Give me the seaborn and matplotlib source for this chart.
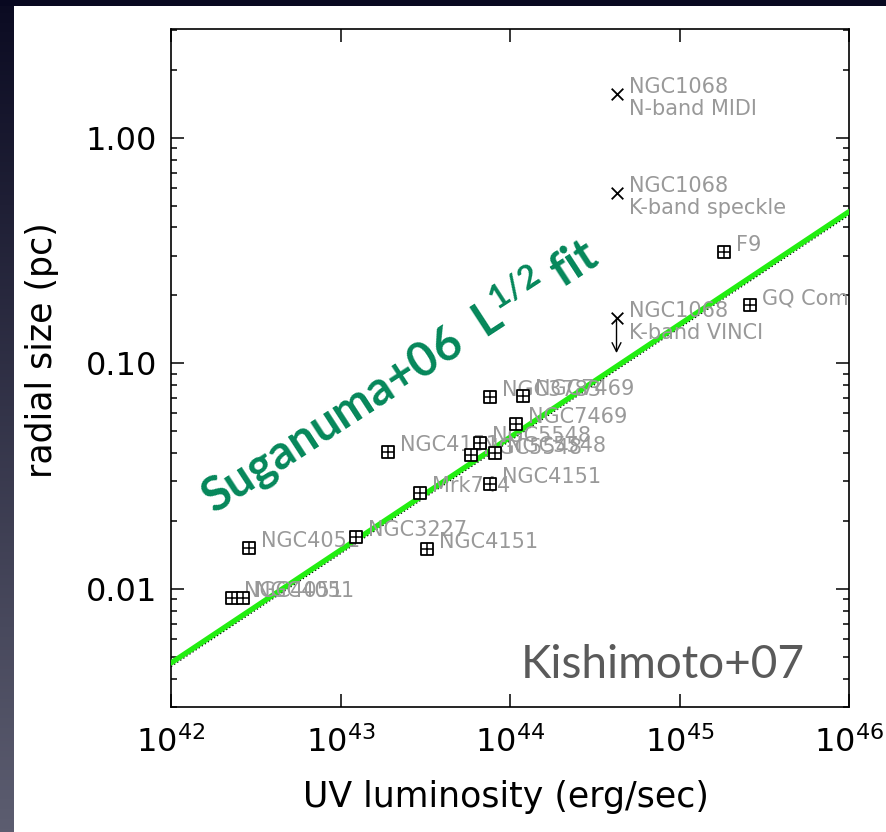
import numpy as np
import pandas as pd
import matplotlib
matplotlib.use('Agg')
import matplotlib.pyplot as plt
from matplotlib.colors import LinearSegmentedColormap
from matplotlib.patches import Rectangle
from matplotlib.ticker import NullLocator
import seaborn as sns

# Suganuma+06 reverberation sources (UV luminosity, radius)
names = ['NGC4051', 'NGC4051', 'NGC4051', 'NGC3227', 'NGC4151', 'NGC4151',
         'NGC4151', 'Mrk744', 'NGC5548', 'NGC5548', 'NGC5548', 'NGC3783',
         'NGC7469', 'NGC7469', 'F9', 'GQ Com']
lum = [2.90e42, 2.29e42, 2.66e42, 1.24e43, 1.90e43, 7.67e43,
       3.26e43, 2.95e43, 6.62e43, 5.86e43, 8.11e43, 7.67e43,
       1.19e44, 1.08e44, 1.83e45, 2.62e45]
rad = [0.0152, 0.00909, 0.00909, 0.0170, 0.0404, 0.0292,
       0.0151, 0.0267, 0.0442, 0.0392, 0.0400, 0.0710,
       0.0720, 0.0541, 0.310, 0.181]

# NGC1068 interferometry
n1068_lum = [4.25e44, 4.25e44, 4.25e44]
n1068_rad = [1.56, 0.571, 0.159]
n1068_sub = ['N-band MIDI', 'K-band speckle', 'K-band VINCI']
vinci_limit = 0.111

# L^1/2 fit end points
fit_lum = [1e42, 1e46]
fit_rad = [0.0047, 0.47]

xticks = [1e42, 1e43, 1e44, 1e45, 1e46]
xticklabels = ['$10^{42}$', '$10^{43}$', '$10^{44}$', '$10^{45}$', '$10^{46}$']
yticks = [0.01, 0.1, 1.0]
yticklabels = ['0.01', '0.10', '1.00']

sns.set_style('ticks')
plt.rcParams['font.family'] = ['DejaVu Sans']

df = pd.DataFrame({'name': names, 'lum': lum, 'rad': rad})
df68 = pd.DataFrame({'lum': n1068_lum, 'rad': n1068_rad, 'sub': n1068_sub})
dfit = pd.DataFrame({'lum': fit_lum, 'rad': fit_rad})

fig = plt.figure(figsize=(8.87, 8.32), dpi=100)
fig.patch.set_facecolor('white')

# dark slide frame
sax = fig.add_axes([0, 0, 14/887, 1])
grad = np.linspace(0, 1, 256)[:, None]
sax.imshow(grad, aspect='auto', origin='upper',
           cmap=LinearSegmentedColormap.from_list('bg', ['#0b0b22', '#5c5d70']))
sax.axis('off')
fig.add_artist(Rectangle((0, 826/832), 1, 6/832, transform=fig.transFigure,
                         color='#080820', lw=0))

ax = fig.add_axes([171/887, 125/832, 678/887, 678/832])
ax.set_xscale('log'); ax.set_yscale('log')

# fit line (dotted original + thick green)
ax.plot(dfit['lum'], dfit['rad'] * 0.965, color='black', ls=':', lw=1, zorder=2)
sns.lineplot(data=dfit, x='lum', y='rad', color='#22ee11', lw=3.8, sort=False,
             ax=ax, zorder=3)

# labels first so markers sit on top
for _, r in df.iterrows():
    ax.annotate(r['name'], (r['lum'], r['rad']), xytext=(12, 7),
                textcoords='offset pixels', ha='left', va='center',
                fontsize=15, color='#999999', zorder=4)
for _, r in df68.iterrows():
    ax.annotate('NGC1068', (r['lum'], r['rad']), xytext=(12, 7),
                textcoords='offset pixels', ha='left', va='center',
                fontsize=15, color='#999999', zorder=4)
    ax.annotate(r['sub'], (r['lum'], r['rad']), xytext=(12, -15),
                textcoords='offset pixels', ha='left', va='center',
                fontsize=15, color='#999999', zorder=4)

sns.scatterplot(data=df, x='lum', y='rad', marker='s', s=75,
                facecolor='white', edgecolor='black', linewidth=1.3,
                ax=ax, zorder=5)
sns.scatterplot(data=df, x='lum', y='rad', marker='+', s=75,
                color='black', linewidth=1.1, ax=ax, zorder=6)
sns.scatterplot(data=df68, x='lum', y='rad', marker='x', s=70,
                color='black', linewidth=1.3, ax=ax, zorder=6)
ax.annotate('', xy=(n1068_lum[2], vinci_limit), xytext=(n1068_lum[2], n1068_rad[2]),
            arrowprops=dict(arrowstyle='->', color='black', lw=1,
                            mutation_scale=16, shrinkA=0, shrinkB=0), zorder=6)

ax.text(0.337, 0.49, 'Suganuma+06  L$^{\\mathregular{1/2}}$ fit',
        transform=ax.transAxes, rotation=33, rotation_mode='anchor',
        ha='center', va='center', fontsize=34, family='Lato',
        fontweight='bold', color='#05875a', zorder=7)
ax.text(0.935, 0.062, 'Kishimoto+07', transform=ax.transAxes,
        ha='right', va='center', fontsize=33, family='Lato', color='#5a5a5a')

ax.set_xlim(1e42, 1e46)
ax.set_ylim(0.003, 3.03)
ax.set_xticks(xticks)
ax.set_xticklabels(xticklabels)
ax.xaxis.set_minor_locator(NullLocator())
ax.set_yticks(yticks)
ax.set_yticklabels(yticklabels)

ax.tick_params(which='both', direction='in', top=True, right=True,
               colors='black', labelsize=23, width=1.1)
ax.tick_params(which='major', length=9.5)
ax.tick_params(axis='y', which='major', pad=10)
ax.tick_params(axis='x', which='major', pad=14)
ax.tick_params(which='minor', length=4.5)
for sp in ax.spines.values():
    sp.set_linewidth(1.2); sp.set_color('black')

ax.set_xlabel('UV luminosity (erg/sec)', fontsize=25, color='black')
ax.set_ylabel('radial size (pc)', fontsize=25, color='black')
ax.xaxis.set_label_coords(0.494, -0.108)
ax.yaxis.set_label_coords(-0.165, 0.527)
ax.set_facecolor('white')

plt.savefig('out.png', dpi=100)
plt.close()
